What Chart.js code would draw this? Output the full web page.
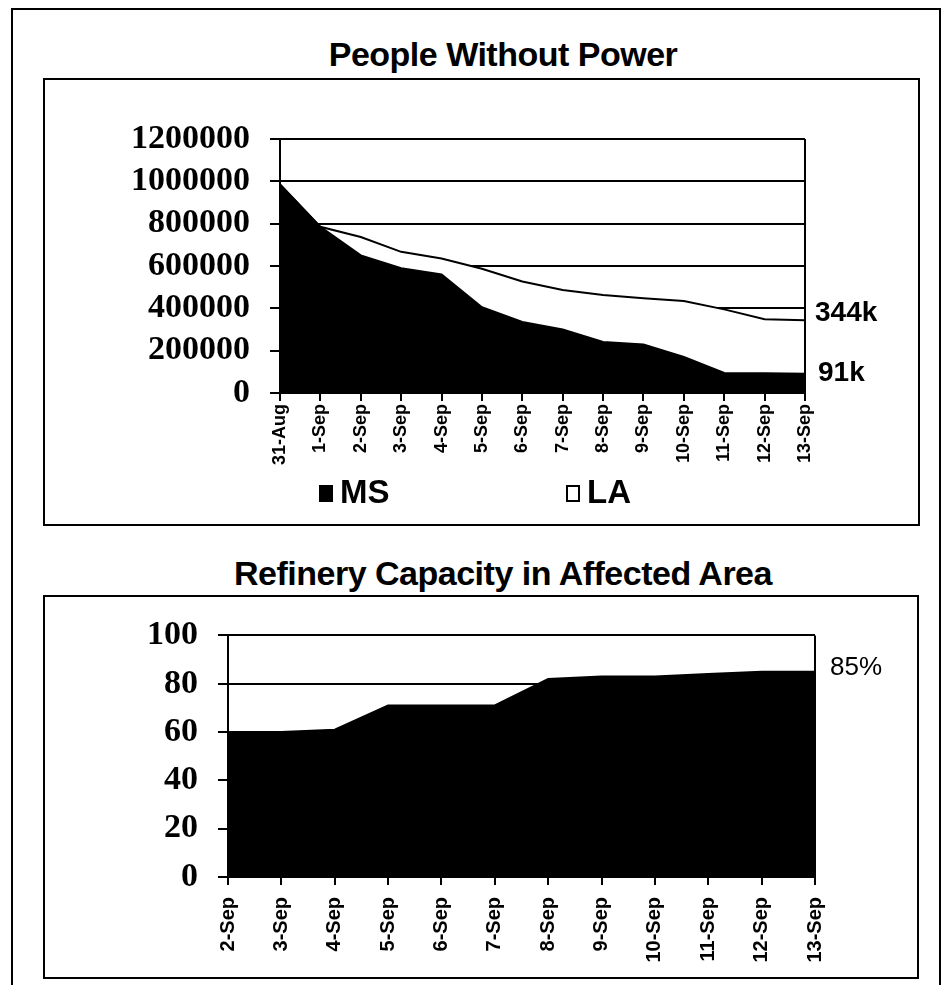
<!DOCTYPE html>
<html>
<head>
<meta charset="utf-8">
<title>People Without Power / Refinery Capacity</title>
<script src="https://cdn.jsdelivr.net/npm/chart.js@4.4.1/dist/chart.umd.min.js"></script>
<style>
	body { margin: 0; background: #fff; width: 943px; height: 985px; overflow: hidden; position: relative; font-family: "Liberation Sans", Arial, sans-serif; }
	.frame { position: absolute; border: 2px solid #000; box-sizing: border-box; }
	.title { position: absolute; left: 0; width: 1006px; text-align: center; font-weight: bold; font-size: 34px; line-height: 40px; letter-spacing: -0.5px; }
	canvas { position: absolute; }
</style>
</head>
<body>
<div class="frame" style="left:11px;top:8px;width:930px;height:1000px"></div>

<div class="title" style="top:34px">People Without Power</div>
<div class="frame" style="left:43px;top:78px;width:877px;height:448px"></div>
<canvas id="power" width="877" height="448" style="left:43px;top:78px"></canvas>

<div class="title" style="top:553px">Refinery Capacity in Affected Area</div>
<div class="frame" style="left:43px;top:595px;width:876px;height:384px"></div>
<canvas id="refinery" width="876" height="384" style="left:43px;top:595px"></canvas>

<script>
// outages by day
let powerDates = ['31-Aug', '1-Sep', '2-Sep', '3-Sep', '4-Sep', '5-Sep', '6-Sep', '7-Sep',
	'8-Sep', '9-Sep', '10-Sep', '11-Sep', '12-Sep', '13-Sep'];
let msOut = [985000, 785000, 650000, 590000, 560000, 405000, 336000, 300000,
	241000, 229000, 170000, 95000, 93000, 91000];
let laOut = [985000, 785000, 737000, 667000, 635000, 587000, 527000, 487000,
	463000, 448000, 435000, 395000, 348000, 344000];
let powerTicks = [0, 200000, 400000, 600000, 800000, 1000000, 1200000];

// refinery capacity back online, percent
let refineryDates = ['2-Sep', '3-Sep', '4-Sep', '5-Sep', '6-Sep', '7-Sep', '8-Sep',
	'9-Sep', '10-Sep', '11-Sep', '12-Sep', '13-Sep'];
let refineryPct = [60, 60, 61, 71, 71, 71, 82, 83, 83, 84, 85, 85];
let refineryTicks = [0, 20, 40, 60, 80, 100];

const SANS = '"Liberation Sans", Arial, sans-serif';
const SERIF = '"Liberation Serif", "Times New Roman", serif';

// right edge of the plot box
let plotFrame = {
	id: 'plotFrame',
	afterDatasetsDraw(chart) {
		let a = chart.chartArea, ctx = chart.ctx;
		ctx.save();
		ctx.strokeStyle = '#000';
		ctx.lineWidth = 2;
		ctx.beginPath();
		ctx.moveTo(a.right, a.top);
		ctx.lineTo(a.right, a.bottom);
		ctx.stroke();
		ctx.restore();
	}
};

// value written next to the last point of a dataset
function endLabels(items) {
	return {
		id: 'endLabels',
		afterDatasetsDraw(chart) {
			let ctx = chart.ctx;
			ctx.save();
			ctx.fillStyle = '#000';
			ctx.textBaseline = 'middle';
			items.forEach(item => {
				let data = chart.data.datasets[item.dataset].data;
				let value = data[data.length - 1];
				let y = chart.scales.y.getPixelForValue(value);
				ctx.font = item.font;
				ctx.fillText(Math.round(value / item.divisor) + item.suffix, chart.chartArea.right + item.dx, y + item.dy);
			});
			ctx.restore();
		}
	};
}

// square-box legend under the axis labels
function boxLegend(xs, y) {
	return {
		id: 'boxLegend',
		afterDraw(chart) {
			let ctx = chart.ctx;
			ctx.save();
			ctx.font = 'bold 33px ' + SANS;
			ctx.textBaseline = 'middle';
			chart.data.datasets.forEach((ds, i) => {
				let x = xs[i];
				ctx.fillStyle = ds.backgroundColor;
				ctx.fillRect(x, y - 7, 12, 15);
				ctx.strokeStyle = '#000';
				ctx.lineWidth = 2;
				ctx.strokeRect(x, y - 7, 12, 15);
				ctx.fillStyle = '#000';
				ctx.fillText(ds.label, x + 20, y + 1);
			});
			ctx.restore();
		}
	};
}

class AreaChart {
	constructor(args) {
		this.el = document.getElementById(args.id).getContext('2d');
		this.args = args;
		this.render();
	}
	render() {
		let a = this.args;
		this.chart = new Chart(this.el, {
			type: 'line',
			data: { labels: a.labels, datasets: a.datasets },
			plugins: [plotFrame].concat(a.plugins),
			options: {
				responsive: false,
				animation: false,
				events: [],
				layout: { padding: a.padding },
				elements: {
					point: { radius: 0 },
					line: { tension: 0, borderWidth: 2 }
				},
				plugins: { legend: { display: false }, tooltip: { enabled: false } },
				scales: {
					x: {
						offset: false,
						afterFit: s => { s.height = a.xHeight; },
						grid: { drawOnChartArea: false, drawTicks: true, tickLength: 8, color: '#000', lineWidth: 2 },
						border: { color: '#000', width: 2 },
						ticks: {
							autoSkip: false, minRotation: 90, maxRotation: 90, padding: a.xPad,
							color: '#000', font: { family: SANS, weight: 'bold', size: a.xFont }
						}
					},
					y: {
						min: 0,
						max: a.yTicks[a.yTicks.length - 1],
						afterFit: s => { s.width = a.yWidth; },
						afterBuildTicks: s => { s.ticks = a.yTicks.map(v => ({ value: v })); },
						grid: { color: '#000', lineWidth: 2, tickLength: 10 },
						border: { color: '#000', width: 2 },
						ticks: {
							autoSkip: false, padding: 20, color: '#000',
							font: { family: SERIF, weight: 'bold', size: 34 },
							callback: v => String(v)
						}
					}
				}
			}
		});
		return this;
	}
}

new AreaChart({
	id: 'power',
	labels: powerDates,
	yTicks: powerTicks,
	yWidth: 237,
	xHeight: 80,
	xFont: 18,
	xPad: 3,
	padding: { left: 0, top: 61, right: 115, bottom: 53 },
	datasets: [
		{ label: 'MS', data: msOut, fill: 'origin', backgroundColor: '#000', borderColor: '#000' },
		{ label: 'LA', data: laOut, fill: 'origin', backgroundColor: '#fff', borderColor: '#000' }
	],
	plugins: [
		endLabels([
			{ dataset: 1, divisor: 1000, suffix: 'k', font: 'bold 28px ' + SANS, dx: 10, dy: -7 },
			{ dataset: 0, divisor: 1000, suffix: 'k', font: 'bold 28px ' + SANS, dx: 13, dy: 0 }
		]),
		boxLegend([277, 524], 415)
	]
});

new AreaChart({
	id: 'refinery',
	labels: refineryDates,
	yTicks: refineryTicks,
	yWidth: 185,
	xHeight: 95,
	xFont: 20,
	xPad: 12,
	padding: { left: 0, top: 37, right: 104, bottom: 7 },
	datasets: [
		{ label: 'Refinery capacity', data: refineryPct, fill: 'origin', backgroundColor: '#000', borderColor: '#000' }
	],
	plugins: [
		endLabels([
			{ dataset: 0, divisor: 1, suffix: '%', font: '26px ' + SANS, dx: 15, dy: -4 }
		])
	]
});
</script>
</body>
</html>
